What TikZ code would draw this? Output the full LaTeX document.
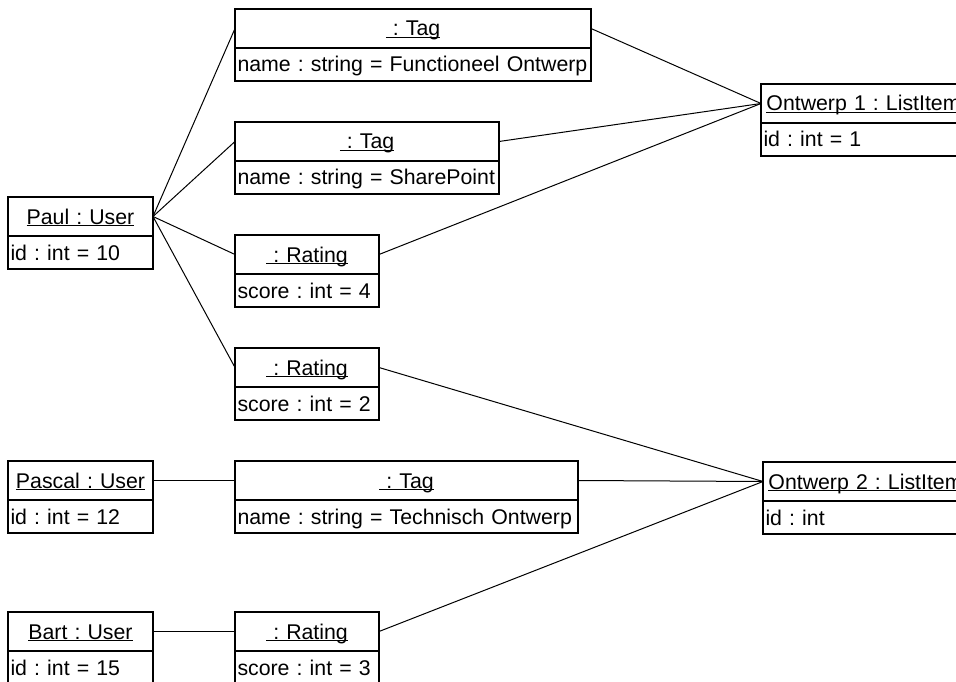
\documentclass[tikz,border=0pt]{standalone}
\usepackage{fontspec}
\setmainfont{Liberation Sans}
\frenchspacing

% object name, underlined just below the baseline
\newcommand{\uname}[1]{\setbox0\hbox{#1}\rlap{\rule[-2.3pt]{\wd0}{1pt}}\box0}

% one UML object: name, x, y (top left), width, title, attribute line
\newcommand{\umlobj}[6]{%
  \node[objhead, minimum width=#4pt, text width=\dimexpr #4pt-5pt\relax,
        anchor=north west] (#1) at (#2,#3) {\uname{#5}};
  \node[objattr, minimum width=#4pt, text width=\dimexpr #4pt-5pt\relax,
        anchor=north west] (#1-a) at (#1.south west) {#6};}

\tikzset{
  objbox/.style={draw=black, line width=1.6pt, rectangle, outer sep=0pt,
    inner xsep=2.5pt, inner ysep=0pt, fill=white,
    font=\fontsize{21.3}{25}\selectfont\frenchspacing, text height=15pt, text depth=0pt},
  objhead/.style={objbox, minimum height=39pt, align=center},
  objattr/.style={objbox, minimum height=33pt, align=left},
  link/.style={draw=black, line width=1pt}
}

\begin{document}
\begin{tikzpicture}[x=1pt, y=-1pt]
  \useasboundingbox (0,0) rectangle (956,682);
  \clip (0,0) rectangle (956,682);
  \fill[white] (0,0) rectangle (956,682);

  % users
  \umlobj{paul}{8}{197}{145}{Paul : User}{id : int = 10}
  \umlobj{pascal}{8}{461}{145}{Pascal : User}{id : int = 12}
  \umlobj{bart}{8}{612}{145}{Bart : User}{id : int = 15}

  % tags and ratings
  \umlobj{tagfo}{235}{9}{356}{\ : Tag}{name : string = Functioneel Ontwerp}
  \umlobj{tagsp}{235}{122}{264}{\ : Tag}{name : string = SharePoint}
  \umlobj{rfour}{235}{235}{144}{\ : Rating}{score : int = 4}
  \umlobj{rtwo}{235}{348}{144}{\ : Rating}{score : int = 2}
  \umlobj{tagto}{235}{461}{343}{\ : Tag}{name : string = Technisch Ontwerp}
  \umlobj{rthree}{235}{612}{144}{\ : Rating}{score : int = 3}

  % list items
  \umlobj{item1}{761}{84}{205}{Ontwerp 1 : ListItem}{id : int = 1}
  \umlobj{item2}{763}{462}{205}{Ontwerp 2 : ListItem}{id : int}

  % links
  \draw[link] (paul.east) -- (tagfo.west);
  \draw[link] (paul.east) -- (tagsp.west);
  \draw[link] (paul.east) -- (rfour.west);
  \draw[link] (paul.east) -- (rtwo.west);
  \draw[link] (pascal.east) -- (tagto.west);
  \draw[link] (bart.east) -- (rthree.west);
  \draw[link] (tagfo.east) -- (item1.west);
  \draw[link] (tagsp.east) -- (item1.west);
  \draw[link] (rfour.east) -- (item1.west);
  \draw[link] (rtwo.east) -- (item2.west);
  \draw[link] (tagto.east) -- (item2.west);
  \draw[link] (rthree.east) -- (item2.west);
\end{tikzpicture}
\end{document}
